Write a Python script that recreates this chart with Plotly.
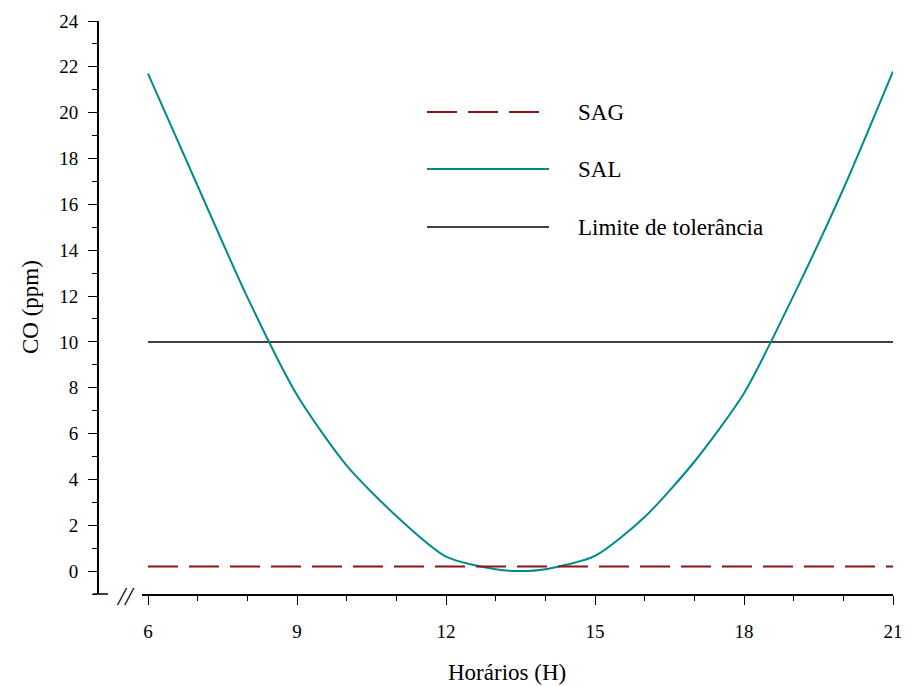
import plotly.graph_objects as go

# Data
hours = [6, 7, 8, 9, 10, 11, 12, 13, 13.5, 14, 15, 16, 17, 18, 19, 20, 21]
sal = [21.7, 16.8, 11.95, 7.68, 4.6, 2.4, 0.63, 0.08, 0.0, 0.08, 0.66, 2.36, 4.77, 7.76, 12.03, 16.67, 21.8]
sag_hours = [6, 21]
sag = [0.2, 0.2]
lim_hours = [6, 21]
limite = [10, 10]

x_ticks = [6, 9, 12, 15, 18, 21]
legend_names = ["SAG", "SAL", "Limite de tolerância"]

FONT = "Times New Roman, Liberation Serif, serif"
W, H = 909, 686
L, R, T, B = 98, 16, 21, 92
PW = W - L - R
PH = H - T - B

def px(x):
    return (x - L) / PW

def py(y):
    return (H - B - y) / PH

SAG_COLOR = "#8B1414"
SAL_COLOR = "#008B8B"
LIM_COLOR = "#000000"

fig = go.Figure()
fig.add_trace(go.Scatter(x=lim_hours, y=limite, mode="lines", name=legend_names[2],
                         line=dict(color=LIM_COLOR, width=1.5)))
fig.add_trace(go.Scatter(x=hours, y=sal, mode="lines", name=legend_names[1],
                         line=dict(color=SAL_COLOR, width=2, shape="spline", smoothing=0.7)))
fig.add_trace(go.Scatter(x=sag_hours, y=sag, mode="lines", name=legend_names[0],
                         line=dict(color=SAG_COLOR, width=2, dash="30px,11px")))

x0 = 6 - 6 / ((893 - 148) / 15)

fig.update_layout(
    width=W, height=H, autosize=False,
    margin=dict(l=L, r=R, t=T, b=B, pad=0, autoexpand=False),
    paper_bgcolor="white", plot_bgcolor="white",
    showlegend=False,
    font=dict(family=FONT, size=19, color="black"),
    xaxis=dict(
        domain=[px(142), 1], range=[x0, 21], anchor="y", automargin=False,
        showgrid=False, zeroline=False, showline=True, linecolor="black", linewidth=1.5,
        tickmode="array", tickvals=x_ticks, ticktext=[str(v) for v in x_ticks],
        ticks="outside", ticklen=9, tickwidth=1.2, tickcolor="black",
        ticklabelstandoff=10,
        minor=dict(dtick=1, tick0=6, ticks="outside", ticklen=5, tickwidth=1, tickcolor="black", showgrid=False),
        tickfont=dict(family=FONT, size=19, color="black"),
    ),
    yaxis=dict(
        range=[-1, 24], anchor="free", position=0, automargin=False,
        showgrid=False, zeroline=False, showline=True, linecolor="black", linewidth=2,
        tick0=0, dtick=2,
        ticks="outside", ticklen=9, tickwidth=1.2, tickcolor="black",
        ticklabelstandoff=6,
        minor=dict(dtick=1, ticks="outside", ticklen=5, tickwidth=1, tickcolor="black", showgrid=False),
        tickfont=dict(family=FONT, size=19, color="black"),
    ),
)

shapes = []
annotations = []
# axis break stub and marks
shapes.append(dict(type="line", xref="paper", yref="paper", x0=px(93), x1=px(108), y0=0, y1=0,
                   line=dict(color="black", width=1.5)))
annotations.append(dict(text="<i>//</i>", xref="paper", yref="paper", x=px(125), y=py(596),
                        showarrow=False, xanchor="center", yanchor="middle",
                        font=dict(family=FONT, size=26, color="black")))

# axis titles
annotations.append(dict(text="Horários (H)", xref="paper", yref="paper", x=px(507), y=py(672),
                        showarrow=False, xanchor="center", yanchor="middle",
                        font=dict(family=FONT, size=23, color="black")))
annotations.append(dict(text="CO (ppm)", xref="paper", yref="paper", x=px(30), y=py(307),
                        showarrow=False, xanchor="center", yanchor="middle", textangle=-90,
                        font=dict(family=FONT, size=23, color="black")))

# custom legend
leg = [
    (legend_names[0], SAG_COLOR, 2, "30px,11px", 112),
    (legend_names[1], SAL_COLOR, 2, "solid", 169),
    (legend_names[2], LIM_COLOR, 1.5, "solid", 227),
]
for name, col, w, dash, yy in leg:
    shapes.append(dict(type="line", xref="paper", yref="paper", x0=px(427), x1=px(549),
                       y0=py(yy), y1=py(yy), line=dict(color=col, width=w, dash=dash)))
    annotations.append(dict(text=name, xref="paper", yref="paper", x=px(576), y=py(yy),
                            showarrow=False, xanchor="left", yanchor="middle",
                            font=dict(family=FONT, size=23, color="black")))

fig.update_layout(shapes=shapes, annotations=annotations)
fig.write_html("out.html")
